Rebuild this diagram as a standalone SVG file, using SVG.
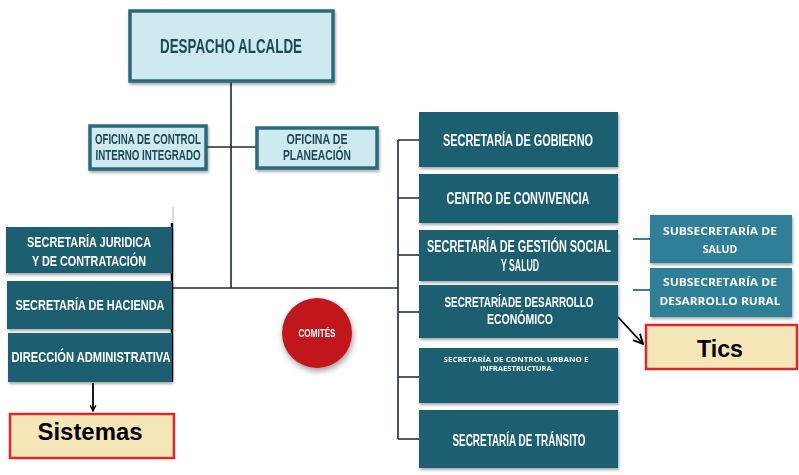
<svg xmlns="http://www.w3.org/2000/svg" width="799" height="475" viewBox="0 0 799 475">
<defs>
<filter id="sh" x="-10%" y="-10%" width="125%" height="130%">
<feGaussianBlur in="SourceAlpha" stdDeviation="1.5"/>
<feOffset dx="1" dy="2" result="b"/>
<feComponentTransfer><feFuncA type="linear" slope="0.35"/></feComponentTransfer>
<feMerge><feMergeNode/><feMergeNode in="SourceGraphic"/></feMerge>
</filter>
<filter id="shc" x="-30%" y="-30%" width="160%" height="160%">
<feGaussianBlur in="SourceAlpha" stdDeviation="3"/>
<feOffset dx="1" dy="3"/>
<feComponentTransfer><feFuncA type="linear" slope="0.4"/></feComponentTransfer>
<feMerge><feMergeNode/><feMergeNode in="SourceGraphic"/></feMerge>
</filter>
<marker id="ah" viewBox="0 0 10 10" refX="9" refY="5" markerWidth="7" markerHeight="7" orient="auto" markerUnits="userSpaceOnUse">
<path d="M1,1 L9,5 L1,9" fill="none" stroke="#000" stroke-width="2"/>
</marker>
<marker id="ah2" viewBox="0 0 10 10" refX="9" refY="5" markerWidth="12" markerHeight="12" orient="auto" markerUnits="userSpaceOnUse">
<path d="M1,1 L9,5 L1,9" fill="none" stroke="#000" stroke-width="1.6"/>
</marker>
</defs>
<style>
.light{fill:#cfe9f1;stroke:#2a6a7a;stroke-width:3.5}
.dark{fill:#1c5e71}
.sub{fill:#2d7f97}
.note{fill:#f5e6b8;stroke:#e0262b;stroke-width:2.5}
.lt{font-family:"Liberation Sans",Arial,sans-serif;font-weight:bold;fill:#1b4a57;text-anchor:middle}
.wt{font-family:"Liberation Sans",Arial,sans-serif;font-weight:bold;fill:#fff;text-anchor:middle}
.st{font-family:"Open Sans","Liberation Sans",sans-serif;font-weight:bold;fill:#fff;text-anchor:middle}
.nt{font-family:"Liberation Sans",Arial,sans-serif;font-weight:bold;fill:#000;text-anchor:middle}
.ln{stroke:#1e2a2e;stroke-width:1.6;fill:none}
</style>
<rect width="799" height="475" fill="#fff"/>
<g id="connectors">
<path class="ln" d="M231,81 V288"/>
<path class="ln" d="M206,147 H256"/>
<path class="ln" d="M173,288 H398"/>
<path class="ln" d="M398,140 V439"/>
<path class="ln" d="M398,140 H419 M398,198 H419 M398,255 H419 M398,312 H419 M398,377 H419 M398,439 H419"/>
<path d="M633,239 H650 M633,290 H650" stroke="#3a7f9a" stroke-width="1.8"/>
<path d="M172,223 V382" stroke="#000" stroke-width="2.5"/>
<path d="M173,207 V223" stroke="#bbb" stroke-width="1"/>
<path d="M93,383 V411" stroke="#000" stroke-width="1.8" marker-end="url(#ah)"/>
<path d="M618,317 L643,344" stroke="#000" stroke-width="1.8" marker-end="url(#ah2)"/>
</g>
<g id="despacho" filter="url(#sh)">
<rect class="light" x="130" y="11" width="203" height="70"/>
<text class="lt" x="231" y="53" font-size="20" textLength="142" lengthAdjust="spacingAndGlyphs">DESPACHO ALCALDE</text>
</g>
<g id="control-interno" filter="url(#sh)">
<rect class="light" x="90" y="126" width="116" height="43" stroke-width="3"/>
<text class="lt" x="148" y="144" font-size="14" textLength="106" lengthAdjust="spacingAndGlyphs">OFICINA DE CONTROL</text>
<text class="lt" x="148" y="160" font-size="14" textLength="105" lengthAdjust="spacingAndGlyphs">INTERNO INTEGRADO</text>
</g>
<g id="planeacion" filter="url(#sh)">
<rect class="light" x="257" y="128" width="120" height="40" stroke-width="3"/>
<text class="lt" x="317" y="144" font-size="14" textLength="61" lengthAdjust="spacingAndGlyphs">OFICINA DE</text>
<text class="lt" x="317" y="160" font-size="14" textLength="68" lengthAdjust="spacingAndGlyphs">PLANEACIÓN</text>
</g>
<g id="juridica" filter="url(#sh)">
<rect class="dark" x="6" y="227" width="166" height="46"/>
<text class="wt" x="89" y="247" font-size="15.5" textLength="124" lengthAdjust="spacingAndGlyphs">SECRETARÍA JURIDICA</text>
<text class="wt" x="89" y="266" font-size="15.5" textLength="114" lengthAdjust="spacingAndGlyphs">Y DE CONTRATACIÓN</text>
</g>
<g id="hacienda" filter="url(#sh)">
<rect class="dark" x="7" y="281" width="165" height="48"/>
<text class="wt" x="90" y="310" font-size="15.5" textLength="149" lengthAdjust="spacingAndGlyphs">SECRETARÍA DE HACIENDA</text>
</g>
<g id="administrativa" filter="url(#sh)">
<rect class="dark" x="8" y="333" width="164" height="49"/>
<text class="wt" x="91" y="362" font-size="15.5" textLength="159" lengthAdjust="spacingAndGlyphs">DIRECCIÓN ADMINISTRATIVA</text>
</g>
<g id="sistemas">
<rect class="note" x="10" y="414" width="164" height="44"/>
<text class="nt" x="90" y="440" font-size="23" textLength="105" lengthAdjust="spacingAndGlyphs">Sistemas</text>
</g>
<g id="comites" filter="url(#shc)">
<circle cx="317" cy="333" r="35" fill="#c1141b"/>
<text class="wt" x="317" y="337" font-size="10.5" textLength="37" lengthAdjust="spacingAndGlyphs">COMITÉS</text>
</g>
<g id="gobierno" filter="url(#sh)">
<rect class="dark" x="419" y="112" width="199" height="55"/>
<text class="wt" x="518" y="146" font-size="16" textLength="150" lengthAdjust="spacingAndGlyphs">SECRETARÍA DE GOBIERNO</text>
</g>
<g id="convivencia" filter="url(#sh)">
<rect class="dark" x="419" y="174" width="199" height="49"/>
<text class="wt" x="518" y="204" font-size="16" textLength="143" lengthAdjust="spacingAndGlyphs">CENTRO DE CONVIVENCIA</text>
</g>
<g id="gestion-social" filter="url(#sh)">
<rect class="dark" x="419" y="230" width="199" height="51"/>
<text class="wt" x="519" y="252" font-size="16" textLength="184" lengthAdjust="spacingAndGlyphs">SECRETARÍA DE GESTIÓN SOCIAL</text>
<text class="wt" x="520" y="271" font-size="16" textLength="38" lengthAdjust="spacingAndGlyphs">Y SALUD</text>
</g>
<g id="desarrollo-economico" filter="url(#sh)">
<rect class="dark" x="419" y="285" width="199" height="53"/>
<text class="wt" x="519" y="307" font-size="14" textLength="149" lengthAdjust="spacingAndGlyphs">SECRETARÍADE DESARROLLO</text>
<text class="wt" x="520" y="324" font-size="14" textLength="66" lengthAdjust="spacingAndGlyphs">ECONÓMICO</text>
</g>
<g id="control-urbano" filter="url(#sh)">
<rect class="dark" x="419" y="348" width="199" height="55"/>
<text class="st" x="516" y="362" font-size="7.5" textLength="145" lengthAdjust="spacingAndGlyphs">SECRETARÍA  DE CONTROL URBANO E</text>
<text class="st" x="517" y="371" font-size="7.5" textLength="74" lengthAdjust="spacingAndGlyphs">INFRAESTRUCTURA.</text>
</g>
<g id="transito" filter="url(#sh)">
<rect class="dark" x="419" y="410" width="199" height="58"/>
<text class="wt" x="519" y="446" font-size="16" textLength="133" lengthAdjust="spacingAndGlyphs">SECRETARÍA DE TRÁNSITO</text>
</g>
<g id="subsec-salud" filter="url(#sh)">
<rect class="sub" x="650" y="215" width="142" height="48"/>
<text class="st" x="720" y="235" font-size="10.5" textLength="114" lengthAdjust="spacingAndGlyphs">SUBSECRETARÍA DE</text>
<text class="st" x="720" y="253" font-size="10.5">SALUD</text>
</g>
<g id="subsec-rural" filter="url(#sh)">
<rect class="sub" x="650" y="268" width="142" height="49"/>
<text class="st" x="720" y="286" font-size="10.5" textLength="114" lengthAdjust="spacingAndGlyphs">SUBSECRETARÍA DE</text>
<text class="st" x="720" y="305" font-size="10.5" textLength="121" lengthAdjust="spacingAndGlyphs">DESARROLLO RURAL</text>
</g>
<g id="tics">
<rect class="note" x="646" y="325" width="151" height="44"/>
<text class="nt" x="720" y="357" font-size="23" textLength="46" lengthAdjust="spacingAndGlyphs">Tics</text>
</g>
</svg>
